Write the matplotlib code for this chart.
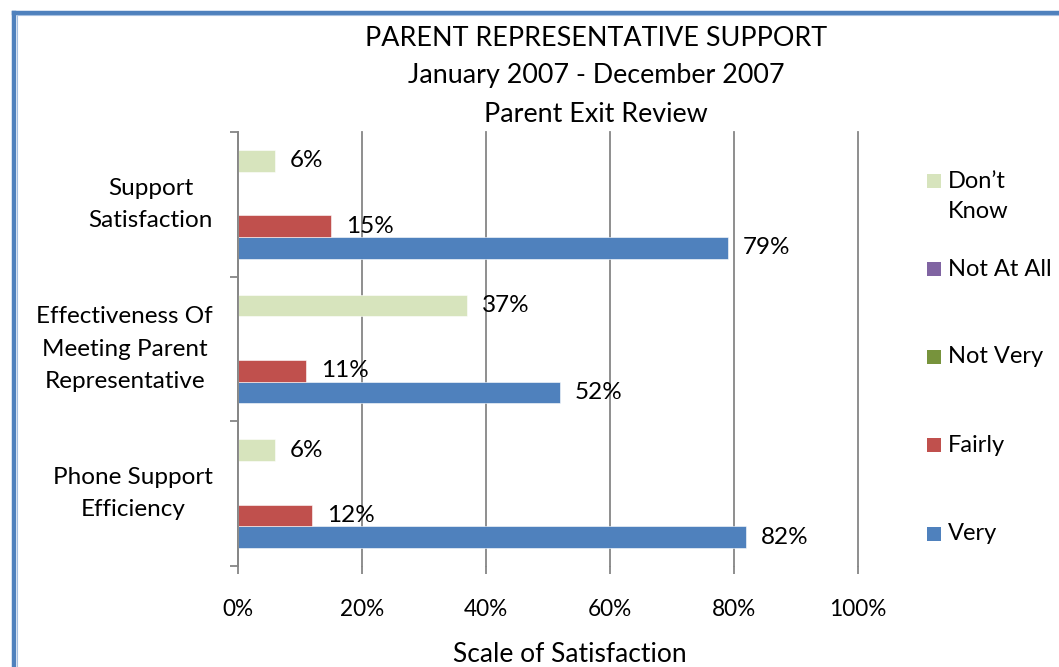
import matplotlib
matplotlib.use("Agg")
import matplotlib.pyplot as plt
from matplotlib.patches import Rectangle
from matplotlib.lines import Line2D

plt.rcParams['font.family'] = ['Lato', 'DejaVu Sans']

categories = ["Support\nSatisfaction", "Effectiveness Of\nMeeting Parent\nRepresentative", "Phone Support\nEfficiency"]
series_names = ["Very", "Fairly", "Not Very", "Not At All", "Don\u2019t Know"]
legend_labels = ["Very", "Fairly", "Not Very", "Not At All", "Don\u2019t\nKnow"]
very = [79, 52, 82]
fairly = [15, 11, 12]
not_very = [0, 0, 0]
not_at_all = [0, 0, 0]
dont_know = [6, 37, 6]
colors = ["#4F81BD", "#C0504D", "#77933C", "#8064A2", "#D7E4BD"]
x_ticks = [0, 20, 40, 60, 80, 100]
x_tick_labels = ["0%", "20%", "40%", "60%", "80%", "100%"]
title_lines = ["PARENT REPRESENTATIVE SUPPORT", "January 2007 - December 2007", "Parent Exit Review"]
x_title = "Scale of Satisfaction"

W, H = 1059, 667
fig = plt.figure(figsize=(W / 100, H / 100), dpi=100)
ax = fig.add_axes([238 / W, 1 - 566 / H, (858 - 238) / W, (566 - 132) / H])

all_series = [very, fairly, not_very, not_at_all, dont_know]
h = 0.15
gray = "#868686"
for i, (vals, col) in enumerate(zip(all_series, colors)):
    off = (2 - i) * h
    ys = [k + off for k in range(len(categories))]
    ax.barh(ys, vals, height=h, color=col, edgecolor="white", linewidth=0.4, zorder=3)
    if i in (0, 1, 4):
        for y, v in zip(ys, vals):
            ax.annotate(f"{v}%", (v, y), xytext=(10.5, 0), textcoords="offset points",
                        ha="left", va="center", fontsize=17.5, color="black", zorder=5)

ax.set_xlim(0, 100)
ax.set_ylim(2.5, -0.5)
ax.set_xticks(x_ticks)
ax.set_xticklabels(x_tick_labels, fontsize=16.3)
ax.tick_params(axis="x", length=6, width=1.3, color=gray, pad=18, direction="out")
ax.set_yticks([-0.5, 0.5, 1.5, 2.5])
ax.set_yticklabels([])
ax.tick_params(axis="y", which="major", length=6, width=1.3, color=gray, direction="out")
ax.set_yticks(range(len(categories)), minor=True)
ax.set_yticklabels(categories, minor=True, fontsize=17.5)
ax.tick_params(axis="y", which="minor", length=0, pad=18)
for t in ax.get_yticklabels(minor=True):
    t.set_multialignment("center")
    t.set_linespacing(1.68)
    t.set_verticalalignment("center")

ax.grid(axis="x", color=gray, linewidth=1.3, zorder=0)
for gl in ax.get_xgridlines():
    gl.set_clip_on(False)
for s in ["top", "right", "bottom"]:
    ax.spines[s].set_visible(False)
ax.spines["left"].set_color(gray)
ax.spines["left"].set_linewidth(1.3)
ax.spines["left"].set_zorder(4)

for k, line in enumerate(title_lines):
    fig.text(596 / W, 1 - [38, 76, 114][k] / H, line, ha="center", va="center", fontsize=19.4)

fig.text(570 / W, 1 - 655 / H, x_title, ha="center", va="center", fontsize=19)

# legend (top entry = last series)
leg_y = [534, 445, 357, 269, 181]
for name, col, yy in zip(legend_labels, colors, leg_y):
    fig.add_artist(Rectangle((927 / W, 1 - (yy + 7) / H), 14 / W, 14 / H,
                             transform=fig.transFigure, facecolor=col, edgecolor="none"))
    fig.text(948 / W, 1 - (yy + 15.5) / H if "\n" in name else 1 - yy / H, name,
             ha="left", va="center", fontsize=17, linespacing=1.5)

# frame border
fig.add_artist(Line2D([14 / W, 14 / W], [-0.05, 1 - 12.5 / H], transform=fig.transFigure,
                      color="#4F81BD", linewidth=3.2))
fig.add_artist(Line2D([14 / W, 1.05], [1 - 12.5 / H, 1 - 12.5 / H], transform=fig.transFigure,
                      color="#4F81BD", linewidth=3.2))
fig.add_artist(Line2D([16.5 / W, 16.5 / W], [-0.05, 1 - 15 / H], transform=fig.transFigure,
                      color="#A7C0E0", linewidth=0.8))
fig.add_artist(Line2D([16.5 / W, 1.05], [1 - 15 / H, 1 - 15 / H], transform=fig.transFigure,
                      color="#A7C0E0", linewidth=0.8))

fig.savefig("out.png", dpi=100)
